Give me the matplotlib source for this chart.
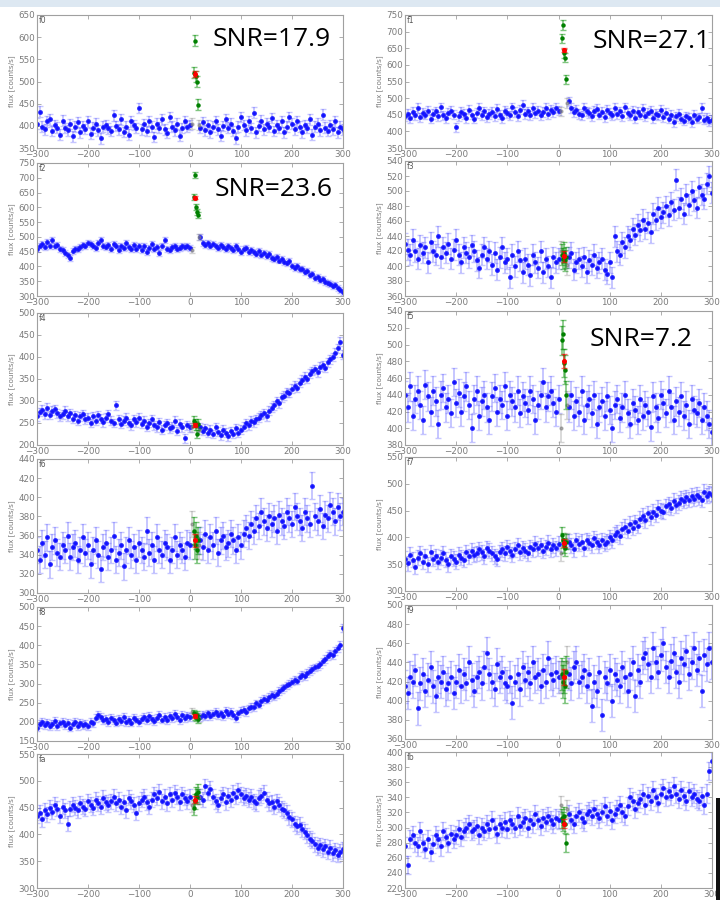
import numpy as np
import matplotlib
matplotlib.use("Agg")
import matplotlib.pyplot as plt
from matplotlib.patches import Rectangle

# ---------------------------------------------------------------------------
# Light-curve data: flux [counts/s] before and after the event window
# (before: t = -300 .. 0 s, after: t = 20 .. 300 s, 5 s cadence)
# ---------------------------------------------------------------------------
PANEL_NAMES = ["f0", "f1", "f2", "f3", "f4", "f5", "f6", "f7", "f8", "f9", "fa", "fb"]

F0_BEFORE = [405, 432, 398, 392, 410, 415, 388, 402, 396, 380,
             412, 395, 390, 404, 376, 398, 408, 385, 400, 393,
             410, 382, 396, 405, 390, 372, 398, 402, 394, 388,
             424, 400, 392, 415, 386, 398, 380, 410, 402, 395,
             440, 392, 404, 388, 410, 398, 375, 405, 396, 415,
             392, 384, 420, 398, 390, 405, 378, 395, 410, 398,
             402]
F0_AFTER = [395, 408, 390, 402, 385, 398, 410, 392, 378, 400,
            415, 396, 405, 388, 372, 398, 420, 402, 390, 410,
            395, 430, 385, 400, 412, 392, 405, 398, 418, 388,
            402, 395, 410, 385, 398, 420, 405, 392, 410, 398,
            385, 402, 395, 415, 380, 398, 405, 390, 425, 396,
            388, 402, 392, 410, 385, 398, 392]

F1_BEFORE = [445, 452, 440, 458, 448, 470, 442, 455, 450, 462,
             438, 452, 460, 445, 472, 448, 440, 455, 462, 450,
             412, 445, 458, 452, 440, 465, 450, 438, 455, 470,
             448, 460, 442, 452, 458, 445, 468, 450, 440, 462,
             455, 448, 472, 458, 445, 465, 480, 452, 460, 448,
             470, 455, 462, 448, 458, 470, 452, 465, 458, 470,
             462]
F1_AFTER = [490, 470, 458, 465, 452, 448, 470, 460, 455, 445,
            462, 468, 450, 458, 442, 465, 455, 448, 470, 452,
            460, 445, 472, 455, 448, 462, 440, 458, 450, 468,
            445, 455, 462, 440, 452, 448, 465, 442, 455, 438,
            450, 428, 445, 452, 438, 432, 445, 440, 428, 450,
            438, 442, 470, 435, 440, 430, 435]

F2_BEFORE = [460, 470, 475, 465, 482, 470, 490, 468, 472, 460,
             455, 445, 440, 430, 452, 460, 458, 465, 472, 468,
             480, 475, 470, 462, 478, 488, 470, 465, 472, 460,
             475, 468, 455, 470, 462, 478, 465, 458, 472, 460,
             468, 455, 470, 450, 462, 475, 458, 465, 445, 470,
             490, 460, 455, 465, 470, 458, 462, 470, 465, 468,
             462]
F2_AFTER = [500, 478, 472, 480, 468, 475, 470, 462, 472, 465,
            458, 470, 462, 455, 468, 460, 450, 458, 462, 448,
            455, 450, 442, 452, 440, 445, 435, 442, 430, 425,
            432, 420, 425, 415, 410, 418, 402, 396, 400, 390,
            392, 382, 385, 372, 375, 362, 365, 355, 358, 348,
            345, 340, 335, 338, 328, 320, 312]

F3_BEFORE = [430, 422, 415, 435, 420, 410, 428, 418, 425, 405,
             432, 420, 415, 440, 412, 425, 418, 430, 410, 422,
             435, 415, 405, 425, 418, 412, 428, 420, 408, 398,
             415, 425, 410, 420, 402, 418, 395, 412, 425, 405,
             410, 385, 415, 400, 420, 408, 392, 410, 402, 388,
             415, 405, 398, 420, 392, 410, 400, 385, 412, 405,
             410]
F3_AFTER = [412, 418, 395, 405, 410, 400, 412, 392, 408, 402,
            415, 398, 405, 410, 395, 390, 405, 385, 440, 420,
            415, 432, 425, 440, 435, 450, 442, 455, 448, 462,
            450, 458, 445, 470, 462, 478, 465, 472, 480, 468,
            485, 475, 515, 478, 490, 470, 495, 482, 500, 488,
            478, 505, 495, 490, 510, 520, 498]

F4_BEFORE = [265, 275, 280, 270, 285, 268, 278, 282, 272, 265,
             270, 278, 265, 272, 260, 268, 255, 265, 270, 258,
             262, 250, 265, 255, 268, 260, 252, 262, 270, 255,
             250, 290, 258, 248, 255, 262, 250, 245, 258, 252,
             262, 248, 255, 242, 250, 258, 245, 240, 252, 235,
             245, 250, 238, 242, 255, 232, 248, 240, 215, 245,
             240]
F4_AFTER = [240, 232, 238, 228, 235, 225, 240, 230, 222, 235,
            228, 220, 232, 225, 238, 228, 235, 242, 250, 245,
            255, 252, 258, 262, 268, 272, 265, 278, 285, 290,
            300, 295, 308, 312, 320, 318, 328, 335, 330, 342,
            348, 355, 350, 362, 368, 372, 365, 378, 382, 375,
            388, 395, 400, 410, 420, 435, 405]

F5_BEFORE = [440, 425, 450, 415, 435, 445, 428, 410, 452, 438,
             420, 445, 432, 405, 440, 448, 425, 435, 418, 455,
             430, 442, 420, 438, 450, 428, 400, 435, 445, 415,
             432, 440, 425, 410, 438, 448, 420, 435, 428, 450,
             415, 440, 432, 425, 445, 418, 438, 430, 422, 445,
             435, 410, 428, 440, 455, 425, 438, 445, 430, 420,
             435]
F5_AFTER = [425, 440, 415, 432, 420, 445, 410, 428, 435, 418,
            440, 405, 425, 432, 415, 438, 422, 400, 428, 435,
            412, 425, 440, 418, 405, 430, 422, 410, 435, 415,
            428, 420, 402, 438, 425, 412, 440, 430, 418, 445,
            425, 410, 432, 420, 438, 415, 428, 405, 435, 422,
            418, 430, 410, 425, 415, 405, 395]

F6_BEFORE = [345, 335, 352, 340, 358, 330, 348, 355, 342, 338,
             350, 345, 360, 338, 348, 352, 335, 345, 358, 342,
             350, 330, 345, 355, 340, 325, 348, 352, 338, 345,
             360, 335, 342, 350, 328, 345, 355, 340, 348, 335,
             352, 345, 338, 365, 342, 350, 335, 358, 345, 340,
             352, 348, 335, 345, 358, 340, 350, 345, 338, 352,
             350]
F6_AFTER = [355, 348, 362, 345, 358, 350, 365, 342, 355, 360,
            348, 352, 362, 355, 345, 358, 350, 362, 368, 360,
            372, 365, 378, 370, 385, 375, 368, 380, 372, 378,
            365, 382, 375, 370, 385, 378, 372, 390, 380, 375,
            368, 385, 378, 372, 412, 380, 375, 388, 370, 382,
            378, 392, 385, 375, 390, 380, 385]

F7_BEFORE = [360, 352, 368, 358, 345, 362, 370, 355, 365, 350,
             372, 360, 365, 355, 362, 370, 358, 350, 365, 360,
             355, 368, 362, 358, 372, 365, 375, 368, 370, 378,
             372, 365, 380, 375, 370, 365, 360, 372, 378, 370,
             382, 375, 368, 378, 385, 372, 380, 375, 370, 382,
             378, 388, 380, 385, 375, 382, 390, 378, 385, 380,
             388]
F7_AFTER = [392, 385, 378, 395, 388, 392, 380, 395, 390, 385,
            398, 392, 385, 395, 388, 392, 400, 395, 405, 410,
            402, 415, 420, 412, 425, 418, 428, 422, 435, 440,
            432, 445, 438, 448, 442, 455, 450, 448, 458, 462,
            455, 468, 460, 465, 472, 468, 475, 470, 478, 472,
            480, 475, 470, 485, 478, 482, 480]

F8_BEFORE = [185, 195, 200, 192, 198, 190, 195, 202, 188, 196,
             200, 192, 198, 185, 195, 200, 190, 198, 192, 195,
             188, 200, 196, 210, 218, 212, 205, 208, 200, 210,
             205, 198, 208, 202, 212, 200, 205, 198, 210, 206,
             200, 208, 212, 205, 215, 208, 202, 210, 218, 206,
             212, 205, 215, 210, 220, 212, 205, 218, 210, 215,
             212]
F8_AFTER = [212, 218, 215, 222, 215, 220, 225, 218, 222, 215,
            228, 220, 225, 218, 210, 222, 228, 232, 225, 235,
            240, 238, 248, 245, 255, 260, 258, 265, 270, 268,
            272, 280, 285, 290, 295, 300, 305, 310, 308, 318,
            322, 320, 328, 332, 338, 342, 345, 350, 358, 365,
            372, 378, 375, 385, 392, 400, 445]

F9_BEFORE = [415, 408, 425, 420, 432, 392, 418, 428, 410, 422,
             435, 415, 405, 425, 420, 430, 412, 418, 425, 408,
             420, 432, 415, 428, 418, 440, 422, 410, 425, 430,
             418, 435, 450, 428, 420, 412, 438, 425, 430, 418,
             415, 425, 398, 420, 428, 412, 435, 422, 430, 418,
             440, 425, 428, 415, 432, 420, 445, 428, 422, 430,
             425]
F9_AFTER = [428, 418, 435, 440, 420, 425, 432, 415, 428, 395,
            420, 410, 430, 385, 425, 418, 432, 400, 428, 422,
            415, 435, 425, 410, 428, 440, 405, 432, 420, 445,
            450, 438, 425, 455, 440, 430, 448, 460, 435, 425,
            442, 450, 430, 420, 445, 438, 452, 428, 440, 455,
            432, 445, 410, 448, 438, 455, 440]

FA_BEFORE = [435, 440, 428, 445, 438, 450, 442, 455, 448, 435,
             452, 445, 420, 448, 455, 450, 445, 458, 452, 448,
             462, 455, 450, 465, 458, 452, 468, 460, 455, 462,
             470, 458, 465, 452, 460, 445, 468, 462, 455, 440,
             458, 465, 470, 460, 452, 465, 475, 468, 480, 462,
             470, 458, 475, 465, 478, 470, 460, 475, 468, 462,
             470]
FA_AFTER = [470, 465, 490, 478, 485, 470, 462, 455, 468, 475,
            460, 472, 465, 478, 470, 482, 475, 468, 472, 465,
            470, 462, 458, 468, 472, 478, 465, 458, 460, 452,
            462, 455, 448, 445, 440, 432, 428, 420, 415, 418,
            410, 405, 398, 392, 388, 382, 375, 380, 372, 378,
            368, 375, 365, 370, 362, 368, 372]

FB_BEFORE = [275, 250, 285, 290, 280, 275, 295, 280, 272, 285,
             268, 278, 290, 285, 275, 295, 288, 280, 292, 285,
             290, 298, 288, 295, 300, 305, 295, 298, 302, 290,
             300, 295, 305, 298, 310, 300, 292, 305, 300, 308,
             298, 310, 305, 300, 315, 302, 308, 312, 300, 310,
             305, 318, 310, 302, 312, 308, 315, 310, 305, 312,
             310]
FB_AFTER = [318, 310, 305, 315, 320, 312, 308, 318, 322, 315,
            325, 318, 312, 320, 328, 315, 322, 310, 318, 325,
            330, 320, 315, 328, 340, 335, 325, 332, 338, 345,
            330, 342, 335, 350, 340, 332, 345, 352, 340, 348,
            342, 355, 345, 338, 350, 342, 335, 348, 340, 345,
            338, 335, 342, 330, 345, 375, 388]

BEFORE = [F0_BEFORE, F1_BEFORE, F2_BEFORE, F3_BEFORE, F4_BEFORE, F5_BEFORE,
          F6_BEFORE, F7_BEFORE, F8_BEFORE, F9_BEFORE, FA_BEFORE, FB_BEFORE]
AFTER = [F0_AFTER, F1_AFTER, F2_AFTER, F3_AFTER, F4_AFTER, F5_AFTER,
         F6_AFTER, F7_AFTER, F8_AFTER, F9_AFTER, FA_AFTER, FB_AFTER]

# Flux uncertainty per panel
FLUX_ERR = [12, 14, 10, 14, 10, 17, 14, 14, 10, 17, 14, 12]

# Event-window samples (green), their mean (red) and excluded samples (gray)
EVENT_T = [7, 9, 11, 13, 15]
EVENT_FLUX = [
    [520, 592, 512, 500, 448],
    [680, 720, 635, 622, 557],
    [635, 710, 600, 585, 575],
    [415, 410, 418, 408, 412],
    [255, 250, 245, 225, 248],
    [505, 512, 478, 470, 440],
    [365, 350, 360, 345, 355],
    [405, 395, 385, 380, 392],
    [222, 215, 212, 218, 208],
    [428, 420, 425, 415, 430],
    [450, 462, 475, 470, 480],
    [312, 308, 315, 305, 280],
]
MEAN_T = 10
MEAN_FLUX = [517, 645, 632, 413, 245, 480, 355, 390, 215, 425, 465, 305]
GRAY_T = [4, 17]
GRAY_FLUX = [
    [405, 402], [460, 485], [455, 500], [420, 402], [240, 235], [400, 428],
    [372, 350], [370, 395], [225, 210], [425, 440], [455, 470], [330, 325],
]

# Axis ranges and tick steps
Y_LIMITS = [(350, 650), (350, 750), (300, 750), (360, 540), (200, 500), (380, 540),
            (300, 440), (300, 550), (150, 500), (360, 500), (300, 550), (220, 400)]
Y_STEPS = [50, 50, 50, 20, 50, 20, 20, 50, 50, 20, 50, 20]
X_TICKS = [-300, -200, -100, 0, 100, 200, 300]

SNR_LABELS = {0: "SNR=17.9", 1: "SNR=27.1", 2: "SNR=23.6", 5: "SNR=7.2"}

# ---------------------------------------------------------------------------
W, H = 720, 900
fig = plt.figure(figsize=(W / 100, H / 100), dpi=100)
fig.patch.set_facecolor("white")

# panel boxes in pixels: (left, top, right, bottom)
LEFT_COL = (37, 343)
RIGHT_COL = (405, 712)
LEFT_ROWS = [(15, 148), (163, 296), (313, 445), (459, 593), (607, 741), (754, 888)]
RIGHT_ROWS = [(15, 148), (161, 296), (311, 445), (457, 591), (605, 739), (752, 888)]

SNR_POS = {0: (213, 40), 1: (593, 42), 2: (215, 190), 5: (590, 340)}

tick_col = "#7a7a7a"
spine_col = "#a0a0a0"

for i, name in enumerate(PANEL_NAMES):
    row, col = divmod(i, 2)
    x0, x1 = LEFT_COL if col == 0 else RIGHT_COL
    y0, y1 = (LEFT_ROWS if col == 0 else RIGHT_ROWS)[row]
    ax = fig.add_axes([x0 / W, 1 - y1 / H, (x1 - x0) / W, (y1 - y0) / H])

    before = np.asarray(BEFORE[i], float)
    after = np.asarray(AFTER[i], float)
    t_before = np.linspace(-300, 0, len(before))
    t_after = np.linspace(20, 300, len(after))
    t = np.concatenate([t_before, t_after])
    flux = np.concatenate([before, after])
    err = FLUX_ERR[i]

    ax.errorbar(t, flux, yerr=err, fmt="o", ms=2.6, color="#1010ff",
                mec=(0.1, 0.1, 1.0, 0.8), ecolor=(0.3, 0.3, 1.0, 0.32),
                elinewidth=1.4, capsize=2.2, capthick=1.0, zorder=2)
    ax.errorbar(GRAY_T, GRAY_FLUX[i], yerr=err, fmt="o", ms=2.0,
                color=(0.5, 0.5, 0.5, 0.6), ecolor=(0.5, 0.5, 0.5, 0.35),
                elinewidth=1.2, capsize=2.0, zorder=2)
    ax.errorbar(EVENT_T, EVENT_FLUX[i], yerr=err, fmt="o", ms=2.2,
                color="#008000", ecolor=(0.0, 0.55, 0.0, 0.5),
                elinewidth=1.2, capsize=2.0, zorder=3)
    ax.errorbar([MEAN_T], [MEAN_FLUX[i]], yerr=err * 0.5, fmt="o", ms=2.6,
                color="#ff0000", ecolor=(1.0, 0.0, 0.0, 0.6),
                elinewidth=1.2, capsize=2.0, zorder=4)

    lo, hi = Y_LIMITS[i]
    ax.set_xlim(-300, 300)
    ax.set_ylim(lo, hi)
    ax.set_xticks(X_TICKS)
    ax.set_yticks(np.arange(lo, hi + 1, Y_STEPS[i]))
    ax.tick_params(direction="in", top=True, right=True, length=3,
                   width=0.6, colors=spine_col, labelcolor=tick_col,
                   labelsize=6.3, pad=1.5)
    ax.xaxis.set_major_formatter(plt.FuncFormatter(
        lambda v, p: f"\u2212{abs(int(v))}" if v < 0 else f"{int(v)}"))
    for s in ax.spines.values():
        s.set_color(spine_col)
        s.set_linewidth(0.8)
    ax.set_ylabel("flux [counts/s]", fontsize=5.2, color=tick_col, labelpad=2)
    ax.text(0.005, 0.995, name, transform=ax.transAxes, ha="left", va="top",
            fontsize=5.5, color="#555555")

    if i in SNR_LABELS:
        px, py = SNR_POS[i]
        fig.text(px / W, 1 - py / H, SNR_LABELS[i], ha="left", va="center",
                 fontsize=19, color="black", family=["Open Sans", "DejaVu Sans"])

# page decorations: tinted header strip and dark edge bar
fig.add_artist(Rectangle((0, 1 - 7 / H), 1, 7 / H, transform=fig.transFigure,
                         facecolor="#dde8f2", edgecolor="none"))
fig.add_artist(Rectangle((716 / W, 0), 4 / W, 102 / H, transform=fig.transFigure,
                         facecolor="#111111", edgecolor="none"))

fig.savefig("out.png", dpi=100)
